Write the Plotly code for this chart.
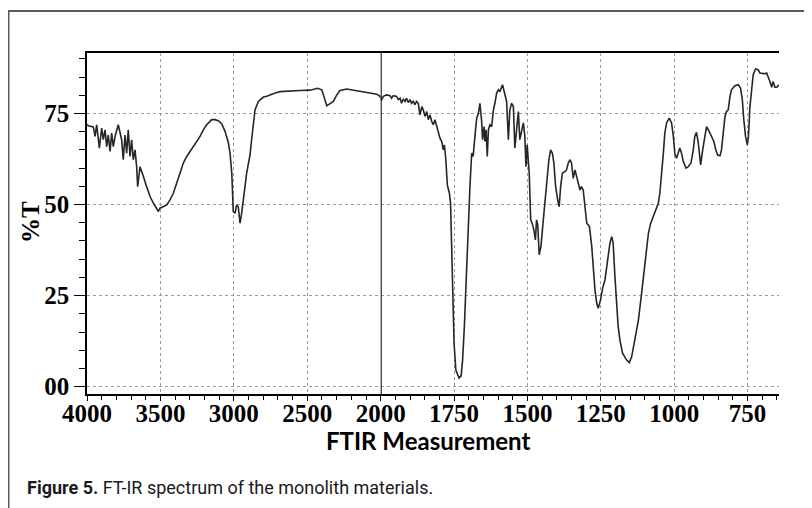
import plotly.graph_objects as go

# ---------------- data ----------------
# 4000-2000 cm-1 region
wn_high = [3998, 3991, 3957, 3945, 3934, 3916, 3900, 3889, 3877, 3866, 3855, 3843, 3832,
           3821, 3809, 3787, 3764, 3753, 3741, 3730, 3719, 3707, 3696, 3685, 3673, 3662,
           3655, 3639, 3616, 3605, 3594, 3582, 3571, 3548, 3525, 3514, 3503, 3480, 3457,
           3435, 3412, 3389, 3366, 3344, 3321, 3298, 3276, 3253, 3230, 3208, 3185, 3151,
           3128, 3106, 3083, 3060, 3037, 3026, 3014, 3008, 3004, 2992, 2981, 2970, 2958,
           2947, 2935, 2924, 2913, 2901, 2890, 2879, 2867, 2856, 2833, 2799, 2776, 2753,
           2719, 2685, 2595, 2549, 2480, 2458, 2430, 2401, 2379, 2367, 2345, 2322, 2299,
           2277, 2231, 2163, 2095, 2027, 2005, 2000]
t_high = [72.0, 71.6, 71.3, 68.7, 71.9, 65.5, 71.0, 67.8, 70.5, 65.9, 69.1, 64.6, 69.6,
          65.9, 68.7, 71.9, 67.8, 62.3, 69.1, 64.1, 70.5, 63.2, 67.8, 62.3, 65.0, 60.4,
          54.9, 60.4, 57.7, 55.9, 54.9, 53.6, 52.2, 50.4, 49.0, 48.1, 49.0, 49.4, 49.9,
          51.3, 53.1, 55.9, 58.6, 61.4, 63.2, 64.6, 65.9, 67.3, 68.7, 70.5, 71.9, 73.3,
          73.3, 73.0, 72.2, 70.1, 66.9, 64.1, 58.6, 52.2, 48.1, 47.6, 49.9, 49.4, 44.9,
          47.6, 52.2, 54.9, 58.6, 61.4, 63.6, 67.8, 72.2, 76.0, 78.3, 79.5, 79.7, 80.1,
          80.6, 81.0, 81.3, 81.3, 81.4, 81.7, 81.9, 81.5, 78.8, 77.1, 77.7, 78.3, 80.1,
          81.3, 81.7, 81.3, 80.8, 80.3, 79.7, 79.2]

# 2000-643 cm-1 region
wn_low = [2000, 1998, 1991, 1980, 1968, 1963, 1957, 1946, 1940, 1934, 1929, 1923, 1917,
          1912, 1906, 1900, 1895, 1889, 1883, 1878, 1872, 1866, 1860, 1855, 1849, 1843,
          1838, 1832, 1826, 1821, 1815, 1809, 1804, 1798, 1792, 1787, 1783, 1781, 1778,
          1773, 1766, 1762, 1758, 1755, 1750, 1744, 1733, 1726, 1721, 1715, 1710, 1704,
          1696, 1690, 1685, 1679, 1673, 1667, 1662, 1656, 1653, 1648, 1645, 1641, 1637,
          1633, 1628, 1622, 1616, 1611, 1605, 1599, 1594, 1585, 1577, 1571, 1565, 1560,
          1554, 1548, 1543, 1537, 1531, 1526, 1520, 1514, 1509, 1505, 1501, 1494, 1489,
          1484, 1478, 1473, 1469, 1465, 1460, 1454, 1448, 1440, 1432, 1427, 1421, 1415,
          1410, 1404, 1397, 1392, 1387, 1381, 1372, 1367, 1361, 1355, 1350, 1344, 1338,
          1333, 1327, 1321, 1316, 1310, 1304, 1298, 1293, 1289, 1281, 1276, 1270, 1264,
          1259, 1251, 1244, 1236, 1228, 1219, 1213, 1208, 1202, 1196, 1191, 1185, 1176,
          1162, 1153, 1145, 1134, 1122, 1111, 1100, 1088, 1080, 1066, 1054, 1049, 1043,
          1037, 1032, 1026, 1017, 1009, 1003, 998, 992, 986, 981, 975, 969, 960, 952,
          943, 935, 930, 924, 918, 910, 903, 895, 890, 881, 873, 865, 858, 852, 844, 839,
          833, 827, 822, 816, 810, 805, 793, 782, 774, 768, 763, 757, 751, 747, 742, 736,
          731, 723, 714, 708, 699, 691, 685, 680, 674, 668, 663, 657, 651, 643]
t_low = [79.0, 78.6, 79.7, 80.1, 79.9, 79.2, 79.9, 79.7, 78.8, 79.2, 77.8, 78.9, 78.3,
         79.2, 78.0, 78.8, 77.8, 78.3, 77.4, 78.3, 77.8, 74.6, 76.9, 76.0, 74.2, 75.5,
         73.3, 74.6, 72.8, 71.9, 73.3, 71.4, 70.5, 68.2, 67.3, 65.0, 66.4, 63.2, 62.3,
         55.4, 53.1, 50.4, 39.4, 25.7, 11.9, 4.6, 2.4, 3.0, 7.3, 16.5, 27.5, 40.3,
         54.9, 64.1, 63.2, 68.7, 73.7, 75.1, 77.8, 72.8, 67.8, 71.4, 67.3, 70.5, 63.2,
         70.5, 71.9, 71.4, 76.0, 77.8, 80.6, 81.5, 81.0, 82.9, 80.6, 78.3, 67.8, 76.0,
         77.8, 76.9, 65.5, 71.4, 75.5, 67.8, 70.1, 72.4, 68.7, 60.4, 66.4, 58.6, 45.8,
         44.9, 43.0, 40.3, 45.8, 44.4, 36.2, 38.5, 44.0, 50.4, 56.8, 62.3, 65.0, 64.1,
         61.4, 54.9, 51.3, 49.4, 54.9, 58.6, 59.1, 59.5, 61.4, 62.3, 61.4, 57.2, 59.5,
         57.7, 55.9, 54.0, 54.9, 54.0, 49.4, 44.9, 44.4, 44.0, 38.5, 33.0, 26.6, 22.9,
         21.5, 23.8, 27.0, 29.3, 33.9, 39.4, 41.2, 39.4, 30.2, 22.9, 16.5, 12.8, 9.2,
         7.3, 6.6, 8.2, 12.8, 18.3, 25.7, 33.9, 42.1, 44.9, 47.6, 50.4, 53.1, 57.7,
         64.1, 69.6, 72.4, 73.7, 72.4, 68.7, 64.1, 62.7, 64.1, 65.5, 64.1, 61.8, 60.0, 60.4,
         61.4, 65.0, 68.7, 69.8, 66.9, 60.9, 65.0, 69.6, 71.4, 70.1, 68.7, 67.3, 65.0, 63.6, 63.4, 65.0,
         69.6, 74.2, 75.5, 76.0, 79.7, 81.5, 82.6, 82.9, 82.0, 78.8, 73.3, 68.7, 66.4, 68.7, 76.9, 82.4,
         85.6, 87.2, 87.0, 86.1, 85.9, 85.9, 86.1, 85.2, 83.8, 82.2, 83.8, 82.2, 82.2, 82.9]

high_ticks = [4000, 3500, 3000, 2500, 2000]
low_ticks = [1750, 1500, 1250, 1000, 750]
y_ticks = [0, 25, 50, 75]
y_ticktext = ["00", "25", "50", "75"]

x_title = "FTIR Measurement"
y_title = "%T"
caption = "<b>Figure 5.</b> FT-IR spectrum of the monolith materials."

# ---------------- figure ----------------
# page has an 8px body margin; size the figure so it fills the window
OFF = 8
W, H = 812 - OFF, 508 - OFF
PL, PT, PR, PB = 87, 53, 779, 394          # plot area in window pixels
L, T = PL - OFF, PT - OFF
R, B = W - (PR - OFF), H - (PB - OFF)
pw, ph = W - L - R, H - T - B
split = (380.7 - PL) / pw


def px(x):
    return (x - PL) / pw


def py(y):
    return (PB - y) / ph


line_style = dict(color="#262626", width=1.6)
tick_font = dict(family="Liberation Serif, Times New Roman, serif", size=25,
                 color="black", weight="bold")

fig = go.Figure()
fig.add_trace(go.Scatter(x=wn_high, y=t_high, mode="lines", line=line_style,
                         xaxis="x", yaxis="y", showlegend=False, hoverinfo="x+y"))
fig.add_trace(go.Scatter(x=wn_low, y=t_low, mode="lines", line=line_style,
                         xaxis="x2", yaxis="y", showlegend=False, hoverinfo="x+y"))

common_x = dict(showgrid=True, gridcolor="#9a9a9a", griddash="dot", gridwidth=1,
                showline=True, linecolor="black", linewidth=1.5, mirror=True,
                ticks="outside", ticklen=5, tickcolor="black", tickwidth=1.2,
                ticklabelstandoff=-9,
                tickfont=tick_font, zeroline=False, anchor="y", automargin=False)

fig.update_layout(
    width=W, height=H,
    margin=dict(l=L, r=R, t=T, b=B, autoexpand=False),
    paper_bgcolor="white", plot_bgcolor="white",
    xaxis=dict(domain=[0, split], range=[4000, 2000],
               tickmode="array", tickvals=high_ticks,
               ticktext=[str(v) for v in high_ticks],
               minor=dict(dtick=100, tick0=0, ticks="outside", ticklen=4,
                          tickcolor="black", showgrid=False),
               **common_x),
    xaxis2=dict(domain=[split, 1], range=[2000, 643],
                tickmode="array", tickvals=low_ticks,
                ticktext=[str(v) for v in low_ticks],
                minor=dict(dtick=50, tick0=0, ticks="outside", ticklen=4,
                           tickcolor="black", showgrid=False),
                **common_x),
    yaxis=dict(domain=[0, 1], range=[-2.0, 91.6], anchor="x", automargin=False,
               tickmode="array", tickvals=y_ticks, ticktext=y_ticktext,
               showgrid=True, gridcolor="#9a9a9a", griddash="dot", gridwidth=1,
               showline=True, linecolor="black", linewidth=1.5,
               ticks="outside", ticklen=11, tickcolor="black", tickwidth=1.2,
               minor=dict(dtick=5, tick0=0, ticks="outside", ticklen=6,
                          tickcolor="black", showgrid=False),
               tickfont=tick_font, zeroline=False),
    shapes=[
        dict(type="line", xref="x2", yref="paper", x0=2000, x1=2000, y0=0, y1=1,
             line=dict(color="black", width=2), layer="above"),
        dict(type="rect", xref="paper", yref="paper",
             x0=px(OFF + 0.5), x1=px(830), y0=py(530), y1=py(11),
             line=dict(color="#5a5a5a", width=2), fillcolor="rgba(0,0,0,0)",
             layer="above"),
    ],
    annotations=[
        dict(text=y_title, xref="paper", yref="paper", x=px(30), y=py(222),
             xanchor="center", yanchor="middle", textangle=-90, showarrow=False,
             font=dict(family="Liberation Serif, Times New Roman, serif", size=25,
                       color="black", weight="bold")),
        dict(text=x_title, xref="paper", yref="paper", x=px(427.5), y=py(441),
             xanchor="center", yanchor="middle", showarrow=False,
             font=dict(family="Lato, Open Sans, sans-serif", size=24,
                       color="black", weight="bold")),
        dict(text=caption, xref="paper", yref="paper", x=px(25), y=py(487),
             xanchor="left", yanchor="middle", showarrow=False,
             font=dict(family="Liberation Sans Narrow, Roboto, sans-serif", size=18,
                       color="#1a1a1a")),
    ],
)

fig.write_html("out.html")
